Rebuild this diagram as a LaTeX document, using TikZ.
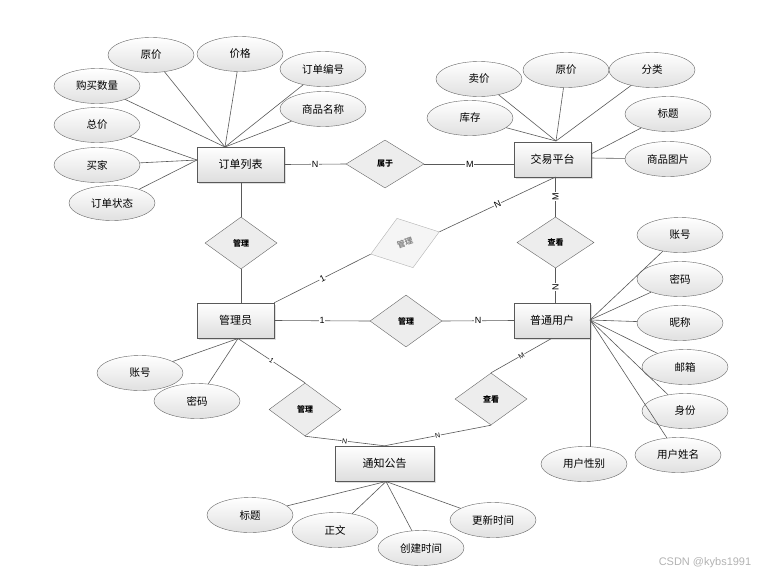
\documentclass[tikz,border=0pt]{standalone}
\usepackage{fontspec}
\setmainfont{Noto Sans CJK SC}
\newfontfamily\labfont{Liberation Sans}
\usetikzlibrary{shapes.geometric,shadows}
\begin{document}
\begin{tikzpicture}[x=1pt,y=-1pt,
 ent/.style={draw=black!65, top color=white, bottom color=black!13, minimum height=35pt, inner sep=0pt,
   font=\fontsize{11}{12}\selectfont, drop shadow={opacity=0.25, shadow xshift=1.5pt, shadow yshift=-1.5pt}},
 attr/.style={ellipse, draw=black!60, top color=white, bottom color=black!12, minimum width=86pt,
   minimum height=35pt, inner sep=0pt, font=\fontsize{10.5}{12}\selectfont},
 rel/.style={diamond, draw=black!60, fill=black!7, minimum width=72pt, minimum height=52pt, inner sep=0pt,
   font=\bfseries\fontsize{8}{9}\selectfont},
 ln/.style={draw=black!65, line width=0.6pt},
 lab/.style={fill=white, inner sep=0.8pt, font=\labfont\fontsize{9}{10}\selectfont},
 labs/.style={fill=white, inner sep=0.5pt, font=\labfont\fontsize{7}{8}\selectfont}]
\useasboundingbox (0,0) rectangle (783,576);

% entities
\node[ent, minimum width=87pt] (dd) at (240.5,164.5) {订单列表};
\node[ent, minimum width=77pt] (jy) at (552.5,159.5) {交易平台};
\node[ent, minimum width=77pt] (gly) at (235.5,320.5) {管理员};
\node[ent, minimum width=76pt] (pt) at (552,320.5) {普通用户};
\node[ent, minimum width=99pt] (tz) at (384.5,463.5) {通知公告};

% relationships
\node[rel, minimum width=78pt, minimum height=48pt] (sy) at (385,164) {属于};
\node[rel] (gl1) at (241,243) {管理};
\node[rel, draw=black!30, fill=black!4, text=black!45, rotate=18] (gl2) at (405,243) {管理};
\node[rel] (gl3) at (406,321) {管理};
\node[rel, minimum width=77pt, minimum height=51pt] (ck1) at (555.5,242.5) {查看};
\node[rel, minimum height=53pt] (gl4) at (305,409.5) {管理};
\node[rel] (ck2) at (491,399) {查看};

% attributes of 订单列表
\node[attr] (yj1) at (151,55) {原价};
\node[attr] (jg) at (240,54) {价格};
\node[attr] (ddbh) at (323,69) {订单编号};
\node[attr] (spmc) at (323,109) {商品名称};
\node[attr] (gmsl) at (97,86) {购买数量};
\node[attr] (zj) at (97,125) {总价};
\node[attr] (mj) at (97,165) {买家};
\node[attr] (ddzt) at (112,203) {订单状态};
\coordinate (ddt) at (225,147);
\coordinate (ddl) at (197,160);
\foreach \a in {yj1,jg,ddbh,spmc,gmsl} \draw[ln] (\a) -- (ddt);
\foreach \a in {zj,mj,ddzt} \draw[ln] (\a) -- (ddl);

% attributes of 交易平台
\node[attr] (mj2) at (479,79) {卖价};
\node[attr] (yj2) at (566,70) {原价};
\node[attr] (fl) at (652,70) {分类};
\node[attr] (kc) at (470,118) {库存};
\node[attr] (bt1) at (668,114) {标题};
\node[attr] (sptp) at (668,159) {商品图片};
\coordinate (jyt) at (556,141);
\coordinate (jyr1) at (591,154);
\coordinate (jyr2) at (591,158);
\foreach \a in {mj2,yj2,fl,kc} \draw[ln] (\a) -- (jyt);
\draw[ln] (bt1) -- (jyr1);
\draw[ln] (sptp) -- (jyr2);

% attributes of 普通用户
\node[attr] (zh1) at (680,235) {账号};
\node[attr] (mm1) at (680,279) {密码};
\node[attr] (nc) at (680,323) {昵称};
\node[attr] (yx) at (685,367) {邮箱};
\node[attr] (sf) at (685,411) {身份};
\node[attr] (xm) at (678,455) {用户姓名};
\node[attr] (xb) at (584,464) {用户性别};
\coordinate (ptr) at (590,320);
\coordinate (ptb) at (590,338);
\foreach \a in {zh1,mm1,nc,yx,sf,xm} \draw[ln] (\a) -- (ptr);
\draw[ln] (ptb) -- (590,447.3);

% attributes of 管理员
\node[attr] (zh2) at (140,373) {账号};
\node[attr] (mm2) at (197,401) {密码};
\coordinate (glyb) at (238,338.5);
\foreach \a in {zh2,mm2} \draw[ln] (\a) -- (glyb);

% attributes of 通知公告
\node[attr] (bt2) at (250,515) {标题};
\node[attr] (zw) at (335,530) {正文};
\node[attr] (cj) at (421,548) {创建时间};
\node[attr] (gx) at (493,520) {更新时间};
\coordinate (tzb) at (386,481.5);
\foreach \a in {bt2,zw,cj,gx} \draw[ln] (\a) -- (tzb);

% relationship connectors
\draw[ln] (dd.east) -- node[lab]{N} (sy.west);
\draw[ln] (sy.east) -- node[lab,pos=0.51]{M} (sy.east -| jy.west);
\coordinate (jyb) at (555.5,177);
\draw[ln] (jyb) -- node[lab, rotate=90]{M} (ck1.north);
\draw[ln] (ck1.south) -- node[lab, rotate=90, pos=0.55]{N} (ck1.south |- pt.north);
\draw[ln] (jyb) -- node[lab, sloped]{N} (gl2.east);
\draw[ln] (gl2.west) -- node[lab, sloped]{1} (gly.north east);
\draw[ln] (dd.south -| gl1.north) -- (gl1.north);
\draw[ln] (gl1.south) -- (gl1.south |- gly.north);
\draw[ln] (gly.east) -- node[lab]{1} (gl3.west);
\draw[ln] (gl3.east) -- node[lab]{N} (pt.west);
\draw[ln] (glyb) -- node[labs, sloped]{1} (gl4.north);
\draw[ln] (gl4.south) -- node[labs, sloped]{N} (tz.north);
\draw[ln] (ck2.south) -- node[labs, sloped]{N} (tz.north);
\draw[ln] (pt.south) -- node[labs, sloped]{M} (ck2.north);

% watermark
\node[text=black!30, font=\labfont\fontsize{11}{12}\selectfont] (wm) at (705,563) {CSDN @kybs1991};
\end{tikzpicture}
\end{document}
